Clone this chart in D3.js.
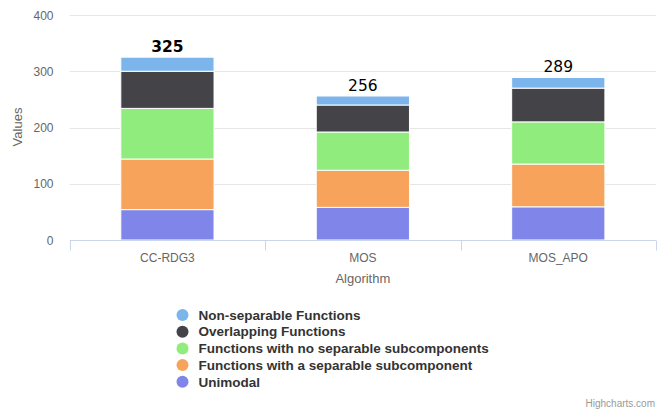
<!DOCTYPE html>
<html>
<head>
<meta charset="utf-8">
<script src="https://cdn.jsdelivr.net/npm/d3@7"></script>
<style>
  html, body { margin: 0; padding: 0; background: #fff; }
  svg { display: block; }
</style>
</head>
<body>
<svg id="chart" width="669" height="412"></svg>
<script>
const categories = ["CC-RDG3", "MOS", "MOS_APO"];
const seriesNames = [
  "Non-separable Functions",
  "Overlapping Functions",
  "Functions with no separable subcomponents",
  "Functions with a separable subcomponent",
  "Unimodal"
];
const nonSeparable = [25, 16, 19];
const overlapping = [66, 48, 60];
const noSeparableSub = [90, 68, 75];
const separableSub = [90, 66, 76];
const unimodal = [54, 58, 59];
const totals = [325, 256, 289];
const yTicks = [0, 100, 200, 300, 400];
const colors = ["#7cb5ec", "#434348", "#90ed7d", "#f7a35c", "#8085e9"];

const svg = d3.select("#chart");
const font = "'Liberation Sans', Arial, sans-serif";

const plotLeft = 69.7, plotRight = 656, plotTop = 15, plotBottom = 240;
const x = d3.scaleBand().domain(categories).range([plotLeft, plotRight]).paddingInner(0).paddingOuter(0);
const y = d3.scaleLinear().domain([0, 400]).range([plotBottom, plotTop]);
const barW = x.bandwidth() * 0.477;

// gridlines
svg.append("g").selectAll("line").data(yTicks.filter(d => d > 0)).join("line")
  .attr("x1", plotLeft).attr("x2", plotRight)
  .attr("y1", d => Math.round(y(d)) + 0.5).attr("y2", d => Math.round(y(d)) + 0.5)
  .attr("stroke", "#e6e6e6").attr("stroke-width", 1);

// y tick labels
svg.append("g").selectAll("text").data(yTicks).join("text")
  .attr("x", 53.5).attr("y", d => y(d) + 4.5)
  .attr("text-anchor", "end").attr("fill", "#666")
  .style("font-family", font).style("font-size", "12px")
  .text(d => d);

// y title
svg.append("text")
  .attr("transform", `translate(21.5,127) rotate(-90)`)
  .attr("text-anchor", "middle").attr("fill", "#666")
  .style("font-family", font).style("font-size", "13px")
  .text("Values");

// stacked bars (bottom to top)
const stackOrder = [unimodal, separableSub, noSeparableSub, overlapping, nonSeparable];
const stackColors = [colors[4], colors[3], colors[2], colors[1], colors[0]];
const bars = svg.append("g");
categories.forEach((c, i) => {
  let base = 0;
  stackOrder.forEach((arr, k) => {
    const v = arr[i];
    const y0 = y(base), y1 = y(base + v);
    bars.append("rect")
      .attr("x", x(c) + (x.bandwidth() - barW) / 2)
      .attr("y", y1)
      .attr("width", barW)
      .attr("height", y0 - y1)
      .attr("fill", stackColors[k])
      .attr("stroke", "#fff").attr("stroke-width", 1);
    base += v;
  });
});

// stack total labels
svg.append("g").selectAll("text").data(categories).join("text")
  .attr("x", d => x(d) + x.bandwidth() / 2)
  .attr("y", (d, i) => y(totals[i]) - 5.5)
  .attr("text-anchor", "middle").attr("fill", "#000")
  .style("font-family", "'DejaVu Sans', sans-serif").style("font-size", "15.5px")
  .style("font-weight", (d, i) => i === 0 ? "bold" : "normal")
  .text((d, i) => totals[i]);

// x axis line and ticks
const axisColor = "#ccd6eb";
svg.append("line").attr("x1", plotLeft).attr("x2", plotRight)
  .attr("y1", 240.5).attr("y2", 240.5).attr("stroke", axisColor);
const tickPos = categories.map(c => x(c)).concat([plotRight]);
svg.append("g").selectAll("line").data(tickPos).join("line")
  .attr("x1", d => Math.round(d) + 0.5).attr("x2", d => Math.round(d) + 0.5)
  .attr("y1", 240.5).attr("y2", 250.5).attr("stroke", axisColor);

// x labels
svg.append("g").selectAll("text").data(categories).join("text")
  .attr("x", d => x(d) + x.bandwidth() / 2).attr("y", 261.5)
  .attr("text-anchor", "middle").attr("fill", "#666")
  .style("font-family", font).style("font-size", "12px")
  .text(d => d);

// x title
svg.append("text")
  .attr("x", (plotLeft + plotRight) / 2).attr("y", 283)
  .attr("text-anchor", "middle").attr("fill", "#666")
  .style("font-family", font).style("font-size", "13px")
  .text("Algorithm");

// legend
const legend = svg.append("g");
seriesNames.forEach((name, i) => {
  const cy = 315 + i * 16.7;
  legend.append("circle").attr("cx", 182.5).attr("cy", cy).attr("r", 6).attr("fill", colors[i]);
  legend.append("text").attr("x", 198.5).attr("y", cy + 4.7)
    .attr("fill", "#333")
    .style("font-family", font).style("font-size", "13.5px").style("font-weight", "bold")
    .text(name);
});

// credits
svg.append("text").attr("x", 655).attr("y", 406.5)
  .attr("text-anchor", "end").attr("fill", "#999")
  .style("font-family", font).style("font-size", "10px")
  .text("Highcharts.com");
</script>
</body>
</html>
